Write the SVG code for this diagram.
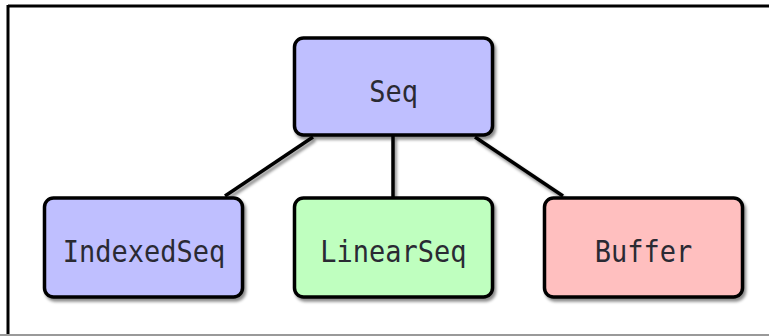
<svg xmlns="http://www.w3.org/2000/svg" width="769" height="336" viewBox="0 0 769 336">
<defs>
<filter id="sh" x="-10%" y="-10%" width="130%" height="140%">
<feDropShadow dx="2" dy="3" stdDeviation="1.8" flood-color="#000" flood-opacity="0.45"/>
</filter>
</defs>
<style>
.box{stroke:#000;stroke-width:3.5;filter:url(#sh)}
.blue{fill:#bfbfff}
.green{fill:#bfffbf}
.red{fill:#ffbfbf}
.lbl{font-family:"DejaVu Sans Mono","Liberation Mono",monospace;font-size:27px;fill:#2a2a33;text-anchor:middle}
.edge{stroke:#000;stroke-width:3.5;fill:none}
</style>
<rect x="0" y="0" width="769" height="336" fill="#fff"/>
<g id="frame">
<line x1="8" y1="6" x2="769" y2="6" stroke="#000" stroke-width="3"/>
<line x1="8" y1="5" x2="8" y2="334" stroke="#000" stroke-width="3"/>
<line x1="0" y1="335" x2="769" y2="335" stroke="#999" stroke-width="2"/>
</g>
<g id="connectors" filter="url(#sh)">
<line class="edge" x1="313" y1="137" x2="225" y2="196"/>
<line class="edge" x1="393" y1="136" x2="393" y2="197"/>
<line class="edge" x1="475" y1="137" x2="563" y2="196"/>
</g>
<g id="seq">
<rect class="box blue" x="294.5" y="38" width="198" height="97" rx="9"/>
<text class="lbl" transform="translate(393.5,102) scale(1,1.12)">Seq</text>
</g>
<g id="indexedseq">
<rect class="box blue" x="44.5" y="198" width="198" height="99" rx="9"/>
<text class="lbl" transform="translate(144,262) scale(1,1.12)">IndexedSeq</text>
</g>
<g id="linearseq">
<rect class="box green" x="294.5" y="198" width="198" height="99" rx="9"/>
<text class="lbl" transform="translate(393.5,262) scale(1,1.12)">LinearSeq</text>
</g>
<g id="buffer">
<rect class="box red" x="544.5" y="198" width="198" height="99" rx="9"/>
<text class="lbl" transform="translate(643.5,262) scale(1,1.12)">Buffer</text>
</g>
</svg>
